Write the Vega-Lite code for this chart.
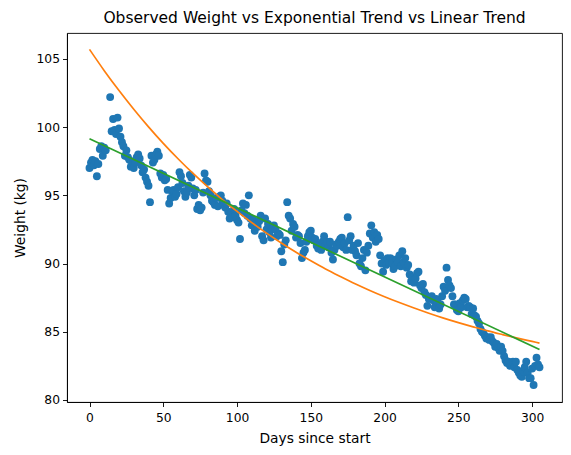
{
  "$schema": "https://vega.github.io/schema/vega-lite/v6.json",
  "width": 495,
  "height": 369,
  "autosize": {"type": "none"},
  "padding": {"left": 67, "top": 33, "right": 9, "bottom": 53},
  "background": "white",
  "title": {"text": "Observed Weight vs Exponential Trend vs Linear Trend", "font": "DejaVu Sans", "fontSize": 15.5, "fontWeight": "normal", "color": "black", "offset": 7},
  "config": {
    "view": {"stroke": "black", "strokeWidth": 0.9},
    "axis": {"grid": false, "domainColor": "black", "domainWidth": 0.9, "tickColor": "black", "tickWidth": 0.9, "tickSize": 4.5, "labelPadding": 3, "labelColor": "black", "titleColor": "black", "labelFont": "DejaVu Sans", "titleFont": "DejaVu Sans", "labelFontSize": 12.3, "titleFontSize": 13.8, "titleFontWeight": "normal"}
  },
  "datasets": {
    "obs": [
      {"d":0,"w":97.0},{"d":1,"w":97.4},{"d":2,"w":97.6},{"d":3,"w":97.2},{"d":4,"w":97.5},{"d":5,"w":96.4},{"d":6,"w":97.3},{"d":7,"w":98.4},{"d":8,"w":98.6},{"d":9,"w":97.9},{"d":10,"w":98.5},{"d":11,"w":98.3},
      {"d":14,"w":102.2},{"d":15,"w":99.7},{"d":16,"w":100.6},{"d":17,"w":99.8},{"d":18,"w":99.5},{"d":19,"w":100.7},{"d":20,"w":99.9},{"d":21,"w":99.3},{"d":22,"w":98.9},{"d":23,"w":98.6},{"d":24,"w":97.9},{"d":25,"w":98.3},{"d":26,"w":97.8},{"d":27,"w":97.6},{"d":28,"w":97.1},{"d":29,"w":97.3},{"d":30,"w":97.0},
      {"d":31,"w":97.4},{"d":32,"w":97.8},{"d":33,"w":98.0},{"d":34,"w":97.7},{"d":35,"w":97.2},{"d":36,"w":96.7},{"d":37,"w":96.9},{"d":38,"w":96.3},{"d":39,"w":96.0},{"d":40,"w":95.7},{"d":41,"w":94.5},{"d":42,"w":97.9},{"d":43,"w":97.4},{"d":44,"w":97.6},{"d":45,"w":98.0},{"d":46,"w":98.2},{"d":47,"w":97.9},{"d":48,"w":96.6},{"d":49,"w":96.3},{"d":50,"w":96.5},
      {"d":51,"w":96.1},{"d":52,"w":96.2},{"d":53,"w":95.4},{"d":54,"w":94.4},{"d":55,"w":94.8},{"d":56,"w":95.3},{"d":57,"w":95.4},{"d":58,"w":94.9},{"d":59,"w":95.1},{"d":60,"w":95.6},{"d":61,"w":96.7},{"d":62,"w":96.4},{"d":63,"w":95.9},{"d":64,"w":95.3},{"d":65,"w":94.9},{"d":66,"w":95.2},{"d":67,"w":95.7},{"d":68,"w":96.5},{"d":69,"w":96.3},{"d":70,"w":95.5},
      {"d":71,"w":95.0},{"d":72,"w":95.4},{"d":73,"w":94.0},{"d":74,"w":94.3},{"d":75,"w":93.9},{"d":76,"w":94.1},{"d":77,"w":95.2},{"d":78,"w":96.6},{"d":79,"w":96.1},{"d":80,"w":96.0},{"d":81,"w":95.3},{"d":82,"w":95.0},{"d":83,"w":94.6},{"d":84,"w":94.5},{"d":85,"w":94.3},{"d":86,"w":94.8},{"d":87,"w":94.2},{"d":88,"w":94.9},{"d":89,"w":95.0},{"d":90,"w":94.6},
      {"d":91,"w":94.3},{"d":92,"w":94.1},{"d":93,"w":94.4},{"d":94,"w":93.8},{"d":95,"w":93.3},{"d":96,"w":93.7},{"d":97,"w":93.4},{"d":98,"w":94.0},{"d":99,"w":93.5},{"d":100,"w":93.2},{"d":101,"w":93.0},{"d":102,"w":91.8},{"d":103,"w":93.9},{"d":104,"w":94.4},{"d":105,"w":93.7},{"d":106,"w":94.3},{"d":107,"w":93.5},{"d":108,"w":95.0},{"d":109,"w":93.3},{"d":110,"w":92.8},
      {"d":111,"w":93.2},{"d":112,"w":92.4},{"d":113,"w":92.9},{"d":114,"w":92.7},{"d":115,"w":93.1},{"d":116,"w":93.5},{"d":117,"w":92.0},{"d":118,"w":91.7},{"d":119,"w":93.3},{"d":120,"w":92.5},{"d":121,"w":92.9},{"d":122,"w":92.3},{"d":123,"w":91.9},{"d":124,"w":92.6},{"d":125,"w":92.8},{"d":126,"w":92.5},{"d":127,"w":92.0},{"d":128,"w":92.2},{"d":129,"w":92.1},{"d":130,"w":90.9},
      {"d":131,"w":90.1},{"d":132,"w":91.4},{"d":133,"w":91.7},{"d":134,"w":94.5},{"d":135,"w":93.5},{"d":136,"w":93.3},{"d":137,"w":92.4},{"d":138,"w":92.9},{"d":139,"w":92.7},{"d":140,"w":91.9},{"d":141,"w":92.1},{"d":142,"w":92.0},{"d":143,"w":91.5},{"d":144,"w":90.4},{"d":145,"w":90.8},{"d":146,"w":91.0},{"d":147,"w":91.6},{"d":148,"w":92.0},{"d":149,"w":92.3},{"d":150,"w":92.4},
      {"d":151,"w":91.9},{"d":152,"w":91.7},{"d":153,"w":91.8},{"d":154,"w":91.3},{"d":155,"w":91.1},{"d":156,"w":91.4},{"d":157,"w":91.0},{"d":158,"w":91.6},{"d":159,"w":92.0},{"d":160,"w":91.3},{"d":161,"w":91.6},{"d":162,"w":91.2},{"d":163,"w":91.6},{"d":164,"w":90.8},{"d":165,"w":90.3},{"d":166,"w":91.0},{"d":167,"w":91.4},{"d":168,"w":91.3},{"d":169,"w":91.6},{"d":170,"w":91.8},
      {"d":171,"w":91.9},{"d":172,"w":91.2},{"d":173,"w":91.5},{"d":174,"w":91.0},{"d":175,"w":93.4},{"d":176,"w":91.7},{"d":177,"w":92.0},{"d":178,"w":91.0},{"d":179,"w":91.3},{"d":180,"w":90.9},{"d":181,"w":90.6},{"d":182,"w":91.5},{"d":183,"w":90.0},{"d":184,"w":89.8},{"d":185,"w":90.4},{"d":186,"w":91.0},{"d":187,"w":89.5},{"d":188,"w":90.8},{"d":189,"w":91.3},{"d":190,"w":92.2},
      {"d":191,"w":92.8},{"d":192,"w":91.9},{"d":193,"w":92.3},{"d":194,"w":91.6},{"d":195,"w":92.1},{"d":196,"w":91.8},{"d":197,"w":90.6},{"d":198,"w":90.0},{"d":199,"w":89.4},{"d":200,"w":90.2},{"d":201,"w":89.9},{"d":202,"w":90.4},{"d":203,"w":90.1},{"d":204,"w":90.4},{"d":205,"w":90.0},{"d":206,"w":89.6},{"d":207,"w":89.8},{"d":208,"w":90.3},{"d":209,"w":90.1},{"d":210,"w":90.6},
      {"d":211,"w":89.8},{"d":212,"w":90.9},{"d":213,"w":90.1},{"d":214,"w":90.4},{"d":215,"w":89.7},{"d":216,"w":89.9},{"d":217,"w":89.2},{"d":218,"w":88.7},{"d":219,"w":89.0},{"d":220,"w":88.6},{"d":221,"w":88.9},{"d":222,"w":89.3},{"d":223,"w":89.4},{"d":224,"w":88.4},{"d":225,"w":88.2},{"d":226,"w":88.5},{"d":227,"w":87.9},{"d":228,"w":87.7},{"d":229,"w":86.9},{"d":230,"w":87.4},
      {"d":231,"w":87.5},{"d":232,"w":87.6},{"d":233,"w":87.3},{"d":234,"w":86.8},{"d":235,"w":87.4},{"d":236,"w":87.2},{"d":237,"w":86.7},{"d":238,"w":87.0},{"d":239,"w":87.6},{"d":240,"w":88.3},{"d":241,"w":88.0},{"d":242,"w":89.7},{"d":243,"w":88.8},{"d":244,"w":88.4},{"d":245,"w":88.2},{"d":246,"w":87.6},{"d":247,"w":87.0},{"d":248,"w":87.0},{"d":249,"w":86.6},{"d":250,"w":86.5},
      {"d":251,"w":87.1},{"d":252,"w":86.8},{"d":253,"w":87.3},{"d":254,"w":87.5},{"d":255,"w":87.4},{"d":256,"w":86.8},{"d":257,"w":86.9},{"d":258,"w":86.8},{"d":259,"w":86.3},{"d":260,"w":86.7},{"d":261,"w":86.2},{"d":262,"w":86.1},{"d":263,"w":85.8},{"d":264,"w":85.6},{"d":265,"w":85.2},{"d":266,"w":85.0},{"d":267,"w":84.9},{"d":268,"w":84.7},{"d":269,"w":84.5},{"d":270,"w":84.6},
      {"d":271,"w":84.4},{"d":272,"w":84.6},{"d":273,"w":84.3},{"d":274,"w":84.2},{"d":275,"w":83.9},{"d":276,"w":84.1},{"d":277,"w":83.8},{"d":278,"w":83.6},{"d":279,"w":83.9},{"d":280,"w":83.6},{"d":281,"w":83.2},{"d":282,"w":82.9},{"d":283,"w":82.7},{"d":284,"w":82.8},{"d":285,"w":82.5},{"d":286,"w":82.7},{"d":287,"w":82.8},{"d":288,"w":82.4},{"d":289,"w":82.8},{"d":290,"w":82.2},
      {"d":291,"w":82.0},{"d":292,"w":81.8},{"d":293,"w":81.7},{"d":294,"w":82.1},{"d":295,"w":82.4},{"d":296,"w":82.8},{"d":297,"w":82.0},{"d":298,"w":81.6},{"d":299,"w":81.6},{"d":300,"w":82.3},{"d":301,"w":81.1},{"d":302,"w":82.5},{"d":303,"w":83.1},{"d":304,"w":82.6},{"d":305,"w":82.4}
    ],
    "expfit": [
      {"d":0,"w":105.70},{"d":10,"w":104.14},{"d":20,"w":102.68},{"d":30,"w":101.31},{"d":40,"w":100.02},{"d":50,"w":98.81},{"d":60,"w":97.68},{"d":70,"w":96.62},{"d":80,"w":95.63},{"d":90,"w":94.69},{"d":100,"w":93.82},
      {"d":110,"w":93.00},{"d":120,"w":92.23},{"d":130,"w":91.51},{"d":140,"w":90.83},{"d":150,"w":90.20},{"d":160,"w":89.60},{"d":170,"w":89.05},{"d":180,"w":88.52},{"d":190,"w":88.03},{"d":200,"w":87.57},
      {"d":210,"w":87.14},{"d":220,"w":86.74},{"d":230,"w":86.36},{"d":240,"w":86.00},{"d":250,"w":85.67},{"d":260,"w":85.36},{"d":270,"w":85.06},{"d":280,"w":84.79},{"d":290,"w":84.53},{"d":300,"w":84.29},{"d":305,"w":84.17}
    ],
    "linfit": [
      {"d":0,"w":99.15},{"d":305,"w":83.70}
    ]
  },
  "encoding": {
    "x": {
      "field": "d",
      "type": "quantitative",
      "title": "Days since start",
      "scale": {"domain": [-15.25, 320.25], "nice": false, "zero": false},
      "axis": {"values": [0, 50, 100, 150, 200, 250, 300], "labelPadding": 5, "titlePadding": 8}
    },
    "y": {
      "field": "w",
      "type": "quantitative",
      "title": "Weight (kg)",
      "scale": {"domain": [79.85, 106.9], "nice": false, "zero": false},
      "axis": {"values": [80, 85, 90, 95, 100, 105], "labelPadding": 3, "titlePadding": 9}
    }
  },
  "layer": [
    {
      "data": {"name": "obs"},
      "mark": {"type": "circle", "size": 62, "color": "#1f77b4", "opacity": 1}
    },
    {
      "data": {"name": "expfit"},
      "mark": {"type": "line", "color": "#ff7f0e", "strokeWidth": 1.7, "interpolate": "monotone"}
    },
    {
      "data": {"name": "linfit"},
      "mark": {"type": "line", "color": "#2ca02c", "strokeWidth": 1.7}
    }
  ]
}
